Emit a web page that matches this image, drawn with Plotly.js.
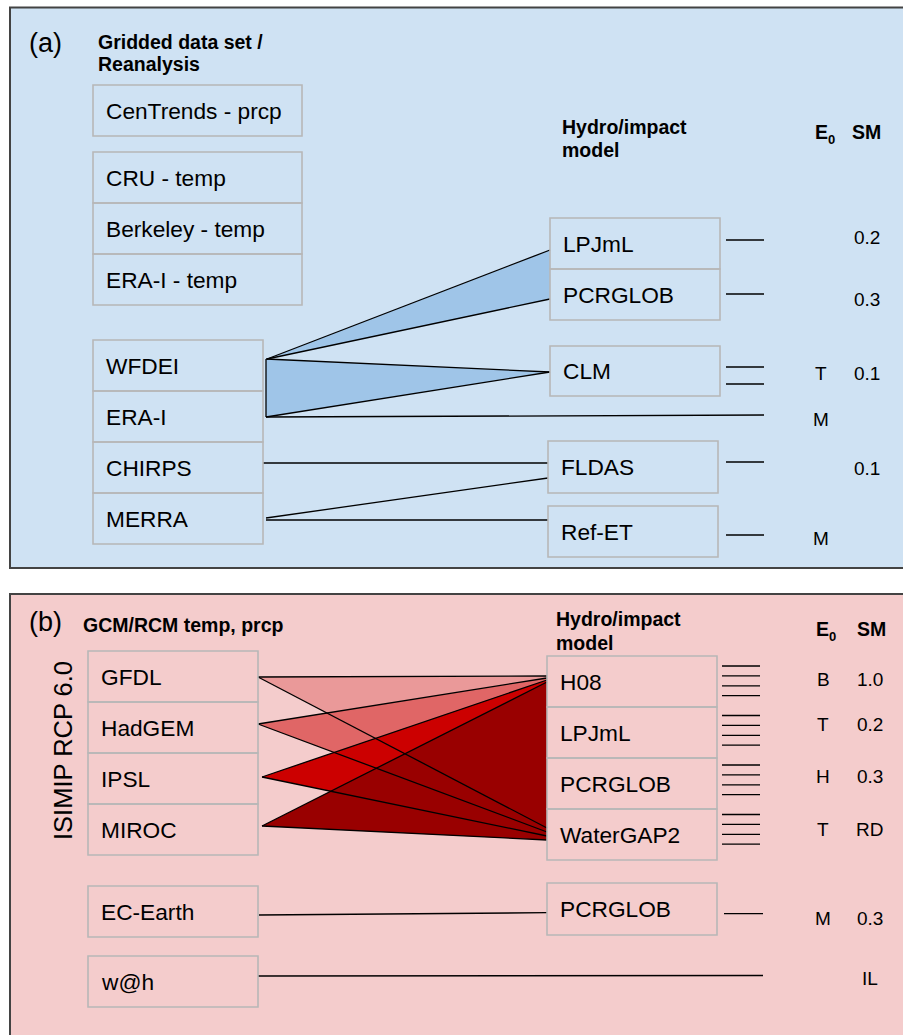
<!DOCTYPE html>
<html>
<head>
<meta charset="utf-8">
<script src="https://cdn.plot.ly/plotly-3.0.1.min.js"></script>
<style>html,body{margin:0;padding:0;background:#fff;}#chart{width:903px;height:1035px;}</style>
</head>
<body>
<div id="chart"></div>
<script>
// ================= DATA =================
// Panel (a)
const panelA_prcpSets   = ['CenTrends - prcp'];
const panelA_tempSets   = ['CRU - temp', 'Berkeley - temp', 'ERA-I - temp'];
const panelA_reanalysis = ['WFDEI', 'ERA-I', 'CHIRPS', 'MERRA'];
const panelA_models     = ['LPJmL', 'PCRGLOB', 'CLM', 'FLDAS', 'Ref-ET'];
// links: source -> target ('E0' = direct to E0 column)
const panelA_links = [
  ['WFDEI', 'LPJmL'], ['WFDEI', 'PCRGLOB'], ['WFDEI', 'CLM'], ['ERA-I', 'CLM'],
  ['ERA-I', 'E0'], ['CHIRPS', 'FLDAS'], ['MERRA', 'FLDAS'], ['MERRA', 'Ref-ET']
];
// filled fans: [source(s), target(s)]
const panelA_fans = [
  [['WFDEI'], ['LPJmL', 'PCRGLOB']],
  [['WFDEI', 'ERA-I'], ['CLM']]
];
const panelA_outputCount = [1, 1, 2, 1, 1];           // per model
const panelA_E0 = ['', '', 'T', 'M', '', 'M'];         // LPJmL, PCRGLOB, CLM, ERA-I, FLDAS, Ref-ET
const panelA_SM = ['0.2', '0.3', '0.1', '', '0.1', ''];

// Panel (b)
const panelB_gcms   = ['GFDL', 'HadGEM', 'IPSL', 'MIROC'];
const panelB_other  = ['EC-Earth', 'w@h'];
const panelB_models = ['H08', 'LPJmL', 'PCRGLOB', 'WaterGAP2'];
const panelB_model2 = ['PCRGLOB'];
const panelB_fanTargets = ['H08', 'WaterGAP2'];        // each GCM -> these two
const panelB_outputCount = [4, 4, 4, 4, 1];
const panelB_E0 = ['B', 'T', 'H', 'T', 'M', ''];
const panelB_SM = ['1.0', '0.2', '0.3', 'RD', '0.3', 'IL'];

// ================= STYLE / LAYOUT =================
const W = 903, H = 1035;
const FONT = 'Liberation Sans, Arial, sans-serif';
const BOX_FONT = 22.7, HEAD_FONT = 19.5, VAL_FONT = 19;
const BOX_LINE = '#b7b7b7';
const BLUE_FILL = '#9fc5e8';
const RED_FILLS = ['#ea9999', '#e06666', '#cc0000', '#990000'];

const groupsA = {
  prcp: {x0: 93,  x1: 302, top: 85,  h: 51, rows: panelA_prcpSets},
  temp: {x0: 93,  x1: 302, top: 152, h: 51, rows: panelA_tempSets},
  rean: {x0: 93,  x1: 263, top: 340, h: 51, rows: panelA_reanalysis},
  m1:   {x0: 550, x1: 720, top: 218, h: 51, rows: panelA_models.slice(0, 2)},
  m2:   {x0: 550, x1: 720, top: 346, h: 50, rows: panelA_models.slice(2, 3)},
  m3:   {x0: 548, x1: 718, top: 441, h: 52, rows: panelA_models.slice(3, 4)},
  m4:   {x0: 548, x1: 718, top: 506, h: 51, rows: panelA_models.slice(4, 5)}
};
const groupsB = {
  gcm:  {x0: 88,  x1: 258, top: 651, h: 51, rows: panelB_gcms},
  ec:   {x0: 88,  x1: 258, top: 886, h: 51, rows: panelB_other.slice(0, 1)},
  wah:  {x0: 88,  x1: 258, top: 956, h: 51, rows: panelB_other.slice(1, 2)},
  mod:  {x0: 547, x1: 717, top: 656, h: 51, rows: panelB_models},
  mod2: {x0: 547, x1: 717, top: 883, h: 52, rows: panelB_model2}
};
// link anchor offsets (layout tweaks) for panel (a), same order as panelA_links
const anchorA = [
  {sx: 4, sdy: -6.5, tdy: 6.5}, {sx: 4, sdy: -6.5, tdy: 4.5}, {sx: 3, sdy: -6.5, tdy: 1},
  {sx: 3, sdy: 0.5, tdy: 1}, {sx: 3, sdy: 0.5, tx: 764, ty: 415},
  {sx: 0, sdy: -4.5, tdy: -4}, {sx: 3, sdy: -0.5, tdy: 11}, {sx: 3, sdy: 1.5, tdy: -11.5}
];
// panel (b) fan anchor offsets
const srcB = [{sx: 0, dy: 0.5}, {sx: 0, dy: -3.5}, {sx: 4, dy: -1.5}, {sx: 4, dy: -3.5}];
const tgtB = {H08: [-5.5, -3.5, -1.5, 0.5], WaterGAP2: [-6.5, -2.5, 1.5, 5.5]};
// output stubs
const stubA = {x0: 726, x1: 764, ys: [[240], [294], [367, 384], [462], [535]]};
const stubB = {x0: 722, x1: 760, first: 666, groupStep: 49.5, lineStep: 9.9, last: 913.7, lastX0: 724, lastX1: 763};
const rowYA = [237, 299, 373, 419, 468, 538];
const rowYB = [679, 724, 776, 829, 918, 978];

// ================= BUILD =================
const shapes = [], annotations = [], traces = [];

function findRow(groups, name, preferKey) {
  for (const k in groups) {
    if (preferKey && k !== preferKey) continue;
    const g = groups[k];
    const i = g.rows.indexOf(name);
    if (i >= 0) return {g, cy: g.top + g.h * (i + 0.5)};
  }
  return null;
}

function text(t, x, y, opts = {}) {
  annotations.push(Object.assign({
    text: t, x, y, xref: 'x', yref: 'y', showarrow: false,
    xanchor: 'left', yanchor: 'middle', borderpad: 0,
    font: {family: FONT, size: BOX_FONT, color: '#000'}
  }, opts));
}

function drawGroups(groups, padX) {
  for (const k in groups) {
    const g = groups[k];
    g.rows.forEach((lab, i) => {
      shapes.push({type: 'rect', xref: 'x', yref: 'y', layer: 'above',
        x0: g.x0, x1: g.x1, y0: g.top + g.h * i, y1: g.top + g.h * (i + 1),
        line: {color: BOX_LINE, width: 1.6}, fillcolor: 'rgba(0,0,0,0)'});
      text(lab, g.x0 + padX, g.top + g.h * (i + 0.5));
    });
  }
}

// Panel backgrounds
shapes.push({type: 'rect', xref: 'x', yref: 'y', layer: 'below', x0: 10, x1: 905, y0: 7.5, y1: 568,
  fillcolor: '#cfe2f3', line: {color: '#434343', width: 2}});
shapes.push({type: 'rect', xref: 'x', yref: 'y', layer: 'below', x0: 10, x1: 905, y0: 594, y1: 1045,
  fillcolor: '#f4cccc', line: {color: '#434343', width: 2}});

// ---- Panel (a) fills ----
function polyTrace(xs, ys, color) {
  traces.push({type: 'scatter', mode: 'lines', x: xs.concat([xs[0]]), y: ys.concat([ys[0]]),
    fill: 'toself', fillcolor: color, line: {width: 0, color: color}, hoverinfo: 'skip'});
}
function linkPoint(i) {
  const [s, t] = panelA_links[i];
  const a = anchorA[i];
  const S = findRow(groupsA, s, 'rean');
  const p = {x0: S.g.x1 + a.sx, y0: S.cy + a.sdy};
  if (t === 'E0') { p.x1 = a.tx; p.y1 = a.ty; }
  else { const T = findRow(groupsA, t); p.x1 = T.g.x0; p.y1 = T.cy + a.tdy; }
  return p;
}
const linkPts = panelA_links.map((_, i) => linkPoint(i));
panelA_fans.forEach(([srcs, tgts]) => {
  const idx = [];
  srcs.forEach(s => tgts.forEach(t => {
    idx.push(panelA_links.findIndex(l => l[0] === s && l[1] === t));
  }));
  const xs = [], ys = [];
  if (srcs.length === 1) {
    xs.push(linkPts[idx[0]].x0); ys.push(linkPts[idx[0]].y0);
    idx.forEach(j => { xs.push(linkPts[j].x1); ys.push(linkPts[j].y1); });
  } else {
    idx.forEach(j => { xs.push(linkPts[j].x0); ys.push(linkPts[j].y0); });
    xs.push(linkPts[idx[0]].x1); ys.push(linkPts[idx[0]].y1);
  }
  polyTrace(xs, ys, BLUE_FILL);
});

// ---- Panel (b) fills ----
const fanB = panelB_gcms.map((g, i) => {
  const S = findRow(groupsB, g, 'gcm');
  const s = {x: S.g.x1 + srcB[i].sx, y: S.cy + srcB[i].dy};
  const tg = panelB_fanTargets.map(t => {
    const T = findRow(groupsB, t, 'mod');
    return {x: T.g.x0, y: T.cy + tgtB[t][i]};
  });
  return {s, tg};
});
fanB.forEach((f, i) => polyTrace([f.s.x, f.tg[0].x, f.tg[1].x], [f.s.y, f.tg[0].y, f.tg[1].y], RED_FILLS[i]));

// ---- Black lines ----
const lx = [], ly = [];
function seg(x0, y0, x1, y1) { lx.push(x0, x1, null); ly.push(y0, y1, null); }
linkPts.forEach(p => seg(p.x0, p.y0, p.x1, p.y1));
// left edge of WFDEI/ERA-I fan
seg(linkPts[2].x0, linkPts[2].y0, linkPts[3].x0, linkPts[3].y0);
fanB.forEach(f => f.tg.forEach(t => seg(f.s.x, f.s.y, t.x, t.y)));
// EC-Earth -> PCRGLOB, w@h -> direct
{
  const S = findRow(groupsB, 'EC-Earth'), T = findRow(groupsB, 'PCRGLOB', 'mod2');
  seg(S.g.x1 + 1, S.cy + 3.5, T.g.x0, T.cy + 3.7);
  const S2 = findRow(groupsB, 'w@h');
  seg(S2.g.x1, S2.cy - 5.5, 763, S2.cy - 6);
}
// output stubs
stubA.ys.forEach((ys, i) => ys.slice(0, panelA_outputCount[i]).forEach(y => seg(stubA.x0, y, stubA.x1, y)));
panelB_outputCount.forEach((n, i) => {
  if (i < 4) {
    for (let k = 0; k < n; k++) {
      const y = stubB.first + i * stubB.groupStep + k * stubB.lineStep;
      seg(stubB.x0, y, stubB.x1, y);
    }
  } else {
    seg(stubB.lastX0, stubB.last, stubB.lastX1, stubB.last);
  }
});
traces.push({type: 'scatter', mode: 'lines', x: lx, y: ly, connectgaps: false,
  line: {color: '#000', width: 1.3}, hoverinfo: 'skip'});

// ---- Boxes + labels ----
drawGroups(groupsA, 12);
drawGroups(groupsB, 11.5);

// ---- Headers ----
const hf = {family: FONT, size: HEAD_FONT, color: '#000'};
const subf = {family: FONT, size: 13, color: '#000'};
function e0Header(x, y) {
  text('<b>E</b>', x, y, {font: hf});
  text('<b>0</b>', x + 13, y + 7, {font: subf});
}
text('(a)', 28, 43, {font: {family: FONT, size: 27, color: '#000'}});
text('<b>Gridded data set /</b>', 97, 42, {font: hf});
text('<b>Reanalysis</b>', 97, 64, {font: hf});
text('<b>Hydro/impact</b>', 561, 127, {font: hf});
text('<b>model</b>', 561, 150, {font: hf});
e0Header(814, 132);
text('<b>SM</b>', 851, 132, {font: hf});

text('(b)', 28, 622, {font: {family: FONT, size: 27, color: '#000'}});
text('<b>GCM/RCM temp, prcp</b>', 82, 625, {font: hf});
text('<b>Hydro/impact</b>', 555, 619, {font: hf});
text('<b>model</b>', 555, 643, {font: hf});
e0Header(815, 629);
text('<b>SM</b>', 856, 629, {font: hf});
text('ISIMIP RCP 6.0', 63, 751, {xanchor: 'center', textangle: -90, font: {family: FONT, size: 25.5, color: '#000'}});

// ---- E0 / SM values ----
const vf = {family: FONT, size: VAL_FONT, color: '#000'};
panelA_E0.forEach((t, i) => { if (t) text(t, 821, rowYA[i], {xanchor: 'center', font: vf}); });
panelA_SM.forEach((t, i) => { if (t) text(t, 866.5, rowYA[i], {xanchor: 'center', font: vf}); });
panelB_E0.forEach((t, i) => { if (t) text(t, 823, rowYB[i], {xanchor: 'center', font: vf}); });
panelB_SM.forEach((t, i) => { if (t) text(t, 869.5, rowYB[i], {xanchor: 'center', font: vf}); });

const layout = {
  width: W, height: H, margin: {l: 0, r: 0, t: 0, b: 0},
  paper_bgcolor: '#ffffff', plot_bgcolor: '#ffffff', showlegend: false,
  xaxis: {range: [0, W], visible: false, fixedrange: true},
  yaxis: {range: [H, 0], visible: false, fixedrange: true},
  shapes, annotations
};
Plotly.newPlot('chart', traces, layout, {displayModeBar: false, staticPlot: true});
</script>
</body>
</html>
